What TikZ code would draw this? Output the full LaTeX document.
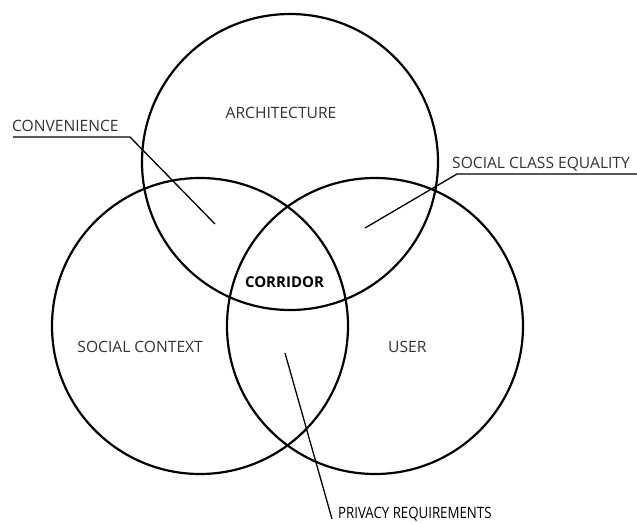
\documentclass[tikz,border=0pt]{standalone}
\usepackage{fontspec}
\setmainfont{Open Sans}
\begin{document}
\begin{tikzpicture}[x=1pt,y=-1pt,
  ring/.style={circle, draw=black, line width=2.2pt, minimum size=296pt, inner sep=0pt},
  lbl/.style={inner sep=0pt, text=black!80, font=\fontsize{15.6}{15.6}\selectfont},
  lead/.style={draw=black, line width=1.3pt}]
\useasboundingbox (0,0) rectangle (637,522);
\node[ring] (arch) at (290,162) {};
\node[ring] (soc) at (200,326) {};
\node[ring] (user) at (375,326) {};

\node[lbl, anchor=base] (tarch) at (281,118) {ARCHITECTURE};
\node[lbl, anchor=base east] (tsoc) at (203,352) {SOCIAL CONTEXT};
\node[lbl, anchor=base west] (tuser) at (388,352) {USER};
\node[lbl, anchor=base, text=black, font=\fontsize{15}{15}\selectfont\bfseries] (tcor) at (284.5,287) {CORRIDOR};

\node[lbl, anchor=base west] (tconv) at (12,131) {CONVENIENCE};
\coordinate (c1) at (13,137);
\coordinate (c2) at (130,137);
\coordinate (c3) at (215,224);
\draw[lead] (c1) -- (c2) -- (c3);

\node[lbl, anchor=base west] (tclass) at (452,168) {SOCIAL CLASS EQUALITY};
\coordinate (s1) at (637,174);
\coordinate (s2) at (457,174);
\coordinate (s3) at (365,228);
\draw[lead] (s1) -- (s2) -- (s3);

\node[lbl, anchor=base west, text=black, xscale=0.85, transform shape] (tpriv) at (338,518) {PRIVACY REQUIREMENTS};
\coordinate (p1) at (285,353);
\coordinate (p2) at (332,519);
\draw[lead] (p1) -- (p2);
\end{tikzpicture}
\end{document}
